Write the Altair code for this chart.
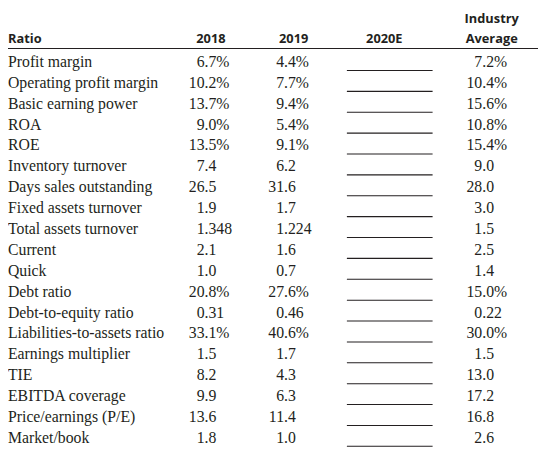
import altair as alt
import pandas as pd

ratios = ["Profit margin", "Operating profit margin", "Basic earning power", "ROA", "ROE",
          "Inventory turnover", "Days sales outstanding", "Fixed assets turnover",
          "Total assets turnover", "Current", "Quick", "Debt ratio", "Debt-to-equity ratio",
          "Liabilities-to-assets ratio", "Earnings multiplier", "TIE", "EBITDA coverage",
          "Price/earnings (P/E)", "Market/book"]
v2018 = ["6.7%", "10.2%", "13.7%", "9.0%", "13.5%", "7.4", "26.5", "1.9", "1.348", "2.1",
         "1.0", "20.8%", "0.31", "33.1%", "1.5", "8.2", "9.9", "13.6", "1.8"]
v2019 = ["4.4%", "7.7%", "9.4%", "5.4%", "9.1%", "6.2", "31.6", "1.7", "1.224", "1.6",
         "0.7", "27.6%", "0.46", "40.6%", "1.7", "4.3", "6.3", "11.4", "1.0"]
industry = ["7.2%", "10.4%", "15.6%", "10.8%", "15.4%", "9.0", "28.0", "3.0", "1.5", "2.5",
            "1.4", "15.0%", "0.22", "30.0%", "1.5", "13.0", "17.2", "16.8", "2.6"]
headers = ["Ratio", "2018", "2019", "2020E", "Average"]

INK = "#231f20"
SERIF = "Liberation Serif"
SANS = "Open Sans"

rows = pd.DataFrame({"row": list(range(len(ratios))), "ratio": ratios})

yscale = alt.Scale(domain=[0, 18], range=[56.5, 438])
Y = alt.Y("row:Q", scale=yscale, axis=None)

labels = alt.Chart(rows).mark_text(align="left", baseline="alphabetic", font=SERIF,
                                   fontSize=16, color=INK).encode(
    x=alt.value(0), y=Y, text="ratio:N")

layers = [labels]
for vals, dec_x in zip([v2018, v2019, industry], [199.5, 280.2, 481.4]):
    df = pd.DataFrame({"row": list(range(len(vals))),
                       "ip": [v.split(".", 1)[0] for v in vals],
                       "fp": ["." + v.split(".", 1)[1] for v in vals]})
    layers.append(alt.Chart(df).mark_text(align="right", baseline="alphabetic", font=SERIF,
                                          fontSize=16, color=INK).encode(
        x=alt.value(dec_x), y=Y, text="ip:N"))
    layers.append(alt.Chart(df).mark_text(align="left", baseline="alphabetic", font=SERIF,
                                          fontSize=16, color=INK).encode(
        x=alt.value(dec_x), y=Y, text="fp:N"))

blanks = alt.Chart(rows).transform_calculate(ly="datum.row + 0.17").mark_rule(
    color=INK, strokeWidth=1.1).encode(
    x=alt.value(344), x2=alt.value(431), y=alt.Y("ly:Q", scale=yscale, axis=None))
layers.append(blanks)

head_rule = alt.Chart(rows).mark_rule(color=INK, strokeWidth=1.2).encode(
    x=alt.value(0), x2=alt.value(538), y=alt.value(37.8))
layers.append(head_rule)

hx = [0, 206, 290, 382, 491]
for h, x in zip(headers, hx):
    layers.append(
        alt.Chart(rows.head(1)).mark_text(
            align="left" if h == "Ratio" else "center", baseline="alphabetic", font=SANS,
            fontSize=13, fontWeight="bold", color=INK, text=h).encode(
            x=alt.value(x), y=alt.value(32.5)))
layers.append(
    alt.Chart(rows.head(1)).mark_text(
        align="center", baseline="alphabetic", font=SANS, fontSize=13,
        fontWeight="bold", color=INK, text="Industry").encode(
        x=alt.value(491), y=alt.value(11.5)))

chart = alt.layer(*layers).properties(
    width=538, height=443, padding=0, autosize=alt.AutoSizeParams(type="none")
).configure_view(stroke=None)

chart.save("out.html", embed_options={"renderer": "svg", "actions": False})
